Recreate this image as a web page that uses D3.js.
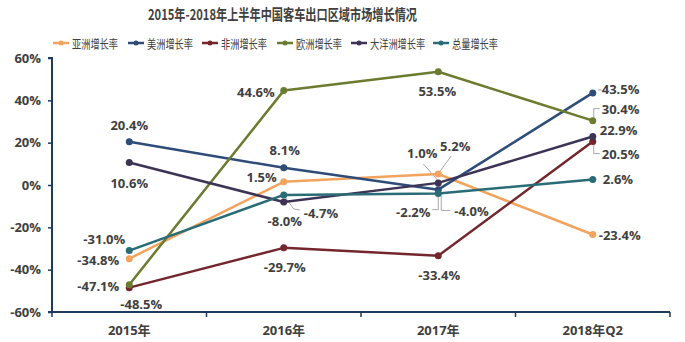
<!DOCTYPE html>
<html>
<head>
<meta charset="utf-8">
<script src="https://cdn.jsdelivr.net/npm/d3@7/dist/d3.min.js"></script>
<style>
  html, body { margin: 0; padding: 0; background: #ffffff; }
  svg { display: block; }
</style>
</head>
<body>
<svg id="chart" width="685" height="342"></svg>
<script>
// Periods on the horizontal axis
const categories = ["2015年", "2016年", "2017年", "2018年Q2"];

// Growth rates (%) by region
const asia    = [-34.8, 1.5, 5.2, -23.4];
const america = [20.4, 8.1, -2.2, 43.5];
const africa  = [-48.5, -29.7, -33.4, 20.5];
const europe  = [-47.1, 44.6, 53.5, 30.4];
const oceania = [10.6, -8.0, 1.0, 22.9];
const total   = [-31.0, -4.7, -4.0, 2.6];

const seriesNames = ["亚洲增长率", "美洲增长率", "非洲增长率", "欧洲增长率", "大洋洲增长率", "总量增长率"];
const yTicks = [-60, -40, -20, 0, 20, 40, 60];
const title = "2015年-2018年上半年中国客车出口区域市场增长情况";

const seriesValues = [asia, america, africa, europe, oceania, total];
const colors = ["#F2A35E", "#2E4C78", "#74262D", "#6B7B30", "#3D3455", "#2A6C76"];

// Label placement per series/point: [dx, dy, text-anchor]
const labelPlacement = [
  [[-10, 1, "end"], [-7, -5, "end"], [17, -28, "middle"], [6, 0, "start"]],
  [[0, -17, "middle"], [1, -18, "middle"], [-25, 22, "middle"], [9, -4, "start"]],
  [[12, 16, "middle"], [1, 19, "middle"], [1, 19, "middle"], [9, 12, "start"]],
  [[-10, 1, "end"], [-9, 1, "end"], [-1, 19, "middle"], [9, -12, "start"]],
  [[0, 20, "middle"], [1, 19, "middle"], [-16, -30, "middle"], [7, -7, "start"]],
  [[-4, -12, "end"], [20, 18, "start"], [16, 18, "start"], [10, 0, "start"]]
];

// Leader lines from a label back to its point, given as offsets from the point
const leaders = [
  { s: 0, i: 2, pts: [[2, -3], [13, -18]] },
  { s: 4, i: 2, pts: [[1, -1], [-15, -19]] },
  { s: 1, i: 2, pts: [[0, 4], [0, 20], [-6, 20]] },
  { s: 5, i: 2, pts: [[3, 2], [3, 17], [12, 17]] },
  { s: 5, i: 1, pts: [[2, 3], [10, 14], [16, 15]] },
  { s: 3, i: 3, pts: [[7, -12], [1, -12], [1, -3]] },
  { s: 2, i: 3, pts: [[1, 3], [1, 12], [7, 12]] },
  { s: 1, i: 3, pts: [[5, -3], [9, -3]] }
];

const svg = d3.select("#chart");
const textColor = "#404040";
const axisColor = "#1E3A5C";
const font = "'Open Sans', 'Noto Sans CJK SC', sans-serif";

const plotLeft = 52, plotRight = 670, plotTop = 58, plotBottom = 312;

const x = d3.scaleBand().domain(categories).range([plotLeft, plotRight]);
const y = d3.scaleLinear().domain([-60, 60]).range([plotBottom, plotTop]);
const cx = c => x(c) + x.bandwidth() / 2;

// Title
svg.append("text")
  .attr("x", 148).attr("y", 13)
  .attr("dominant-baseline", "central")
  .attr("font-family", "'Noto Sans CJK SC', sans-serif")
  .attr("font-weight", "bold")
  .attr("font-size", 15)
  .attr("fill", textColor)
  .attr("textLength", 269)
  .attr("lengthAdjust", "spacingAndGlyphs")
  .text(title);

// Legend
const legendX = [53, 128, 202, 277, 351, 433];
const legend = svg.append("g");
seriesNames.forEach((name, k) => {
  const g = legend.append("g").attr("transform", `translate(${legendX[k]},43)`);
  g.append("line").attr("x1", 0).attr("x2", 16).attr("y1", 0).attr("y2", 0)
    .attr("stroke", colors[k]).attr("stroke-width", 2.5);
  g.append("circle").attr("cx", 8).attr("cy", 0).attr("r", 2.5).attr("fill", colors[k]);
  g.append("text")
    .attr("x", 19).attr("y", 0)
    .attr("dominant-baseline", "central")
    .attr("font-family", "'Noto Sans CJK SC', sans-serif")
    .attr("font-size", 12.5)
    .attr("fill", textColor)
    .attr("textLength", name.length * 9.2)
    .attr("lengthAdjust", "spacingAndGlyphs")
    .text(name);
});

// Y axis
const yAxis = d3.axisLeft(y).tickValues(yTicks).tickSize(4).tickPadding(7)
  .tickFormat(d => d + "%");
const gy = svg.append("g").attr("transform", `translate(${plotLeft},0)`).call(yAxis);
gy.select(".domain").attr("stroke", axisColor).attr("stroke-width", 2)
  .attr("d", `M-4,${plotTop}H0V${plotBottom}H-4`);
gy.selectAll(".tick line").attr("stroke", axisColor).attr("stroke-width", 1.5);
gy.selectAll(".tick text")
  .attr("font-family", font).attr("font-weight", "bold").attr("font-size", 13)
  .attr("fill", textColor);

// X axis
const xAxis = d3.axisBottom(x).tickSize(0).tickPadding(14);
const gx = svg.append("g").attr("transform", `translate(0,${plotBottom})`).call(xAxis);
gx.select(".domain").attr("stroke", axisColor).attr("stroke-width", 2)
  .attr("d", `M${plotLeft},0H${plotRight}`);
gx.selectAll(".tick text")
  .attr("font-family", font).attr("font-weight", "bold").attr("font-size", 13)
  .attr("fill", textColor);
// Band boundary ticks
const bounds = [plotLeft, ...categories.map(c => x(c) + x.bandwidth())];
gx.selectAll(".bound").data(bounds).enter().append("line")
  .attr("x1", d => d).attr("x2", d => d).attr("y1", 0).attr("y2", 5)
  .attr("stroke", axisColor).attr("stroke-width", 1.5);

// Leader lines
const leaderG = svg.append("g");
leaders.forEach(l => {
  const px = cx(categories[l.i]);
  const py = y(seriesValues[l.s][l.i]);
  leaderG.append("polyline")
    .attr("points", l.pts.map(p => `${px + p[0]},${py + p[1]}`).join(" "))
    .attr("fill", "none").attr("stroke", "#A8A8A8").attr("stroke-width", 1);
});

// Lines and markers
const line = d3.line().x((d, i) => cx(categories[i])).y(d => y(d));
seriesValues.forEach((vals, k) => {
  svg.append("path").datum(vals)
    .attr("d", line)
    .attr("fill", "none")
    .attr("stroke", colors[k])
    .attr("stroke-width", 2.5)
    .attr("stroke-linejoin", "round");
  svg.selectAll(null).data(vals).enter().append("circle")
    .attr("cx", (d, i) => cx(categories[i]))
    .attr("cy", d => y(d))
    .attr("r", 3.5)
    .attr("fill", colors[k]);
});

// Value labels
seriesValues.forEach((vals, k) => {
  vals.forEach((v, i) => {
    const [dx, dy, anchor] = labelPlacement[k][i];
    svg.append("text")
      .attr("x", cx(categories[i]) + dx)
      .attr("y", y(v) + dy)
      .attr("text-anchor", anchor)
      .attr("dominant-baseline", "central")
      .attr("font-family", font)
      .attr("font-weight", "bold")
      .attr("font-size", 13)
      .attr("fill", textColor)
      .text(v.toFixed(1) + "%");
  });
});
</script>
</body>
</html>
